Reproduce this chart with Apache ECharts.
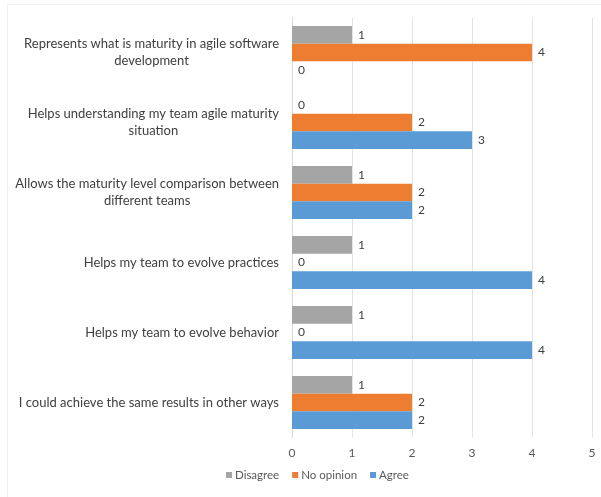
<!DOCTYPE html>
<html>
<head>
<meta charset="utf-8">
<script src="https://cdn.jsdelivr.net/npm/echarts@6/dist/echarts.min.js"></script>
<style>html,body{margin:0;padding:0;background:#fff;}#c{width:601px;height:497px;}</style>
</head>
<body>
<div id="c"></div>
<script>
// Categories bottom to top
const categories = [
  'I could achieve the same results in other ways',
  'Helps my team to evolve behavior',
  'Helps my team to evolve practices',
  'Allows the maturity level comparison between\ndifferent teams',
  'Helps understanding my team agile maturity\nsituation',
  'Represents what is maturity in agile software\ndevelopment'
];
const disagree = [1, 1, 1, 1, 0, 1];
const noOpinion = [2, 0, 0, 2, 2, 4];
const agree = [2, 4, 4, 2, 3, 0];
const xTicks = [0, 1, 2, 3, 4, 5];

const FONT = 'Lato';
const chart = echarts.init(document.getElementById('c'), null, {renderer: 'canvas'});
const lbl = {show: true, position: 'right', distance: 6, color: '#404040', fontSize: 12, fontFamily: FONT};
function mk(name, data, color) {
  return {
    name: name, type: 'bar', data: data,
    barGap: '0%', barCategoryGap: '24%',
    itemStyle: {color: color, borderColor: color, borderWidth: 0},
    label: lbl,
    emphasis: {disabled: true}
  };
}
chart.setOption({
  animation: false,
  backgroundColor: '#ffffff',
  textStyle: {fontFamily: FONT},
  grid: {left: 292, right: 9, top: 17.5, bottom: 59.5, containLabel: false},
  graphic: [{type: 'rect', shape: {x: 7.5, y: 4.5, width: 600, height: 600}, style: {fill: 'none', stroke: '#f0f0f0', lineWidth: 1}, silent: true}],
  legend: {
    data: ['Disagree', 'No opinion', 'Agree'],
    bottom: 11, left: 221,
    itemWidth: 6, itemHeight: 6, itemGap: 13,
    icon: 'rect',
    textStyle: {color: '#595959', fontSize: 11.5, fontFamily: FONT, padding: [0, 0, 0, -2]}
  },
  xAxis: {
    type: 'value', min: 0, max: 5, interval: 1,
    axisLine: {show: false}, axisTick: {show: false},
    splitLine: {show: true, lineStyle: {color: '#e3e3e3', width: 1}},
    axisLabel: {color: '#595959', fontSize: 12, fontFamily: FONT, margin: 10,
      formatter: function (v) { return xTicks.indexOf(v) >= 0 ? String(v) : ''; }}
  },
  yAxis: {
    type: 'category', data: categories,
    axisLine: {show: true, lineStyle: {color: '#d9d9d9'}},
    axisTick: {show: false},
    axisLabel: {
      margin: 13, color: '#404040', fontSize: 13, fontFamily: FONT, lineHeight: 17,
      formatter: function (v) { return v.split('\n').map(function (s) { return '{c|' + s + '}'; }).join('\n'); },
      rich: {c: {align: 'center', color: '#404040', fontSize: 13, fontFamily: FONT, lineHeight: 17}}
    }
  },
  series: [
    mk('Disagree', disagree, '#a5a5a5'),
    mk('No opinion', noOpinion, '#ed7d31'),
    mk('Agree', agree, '#5b9bd5')
  ]
});
</script>
</body>
</html>
